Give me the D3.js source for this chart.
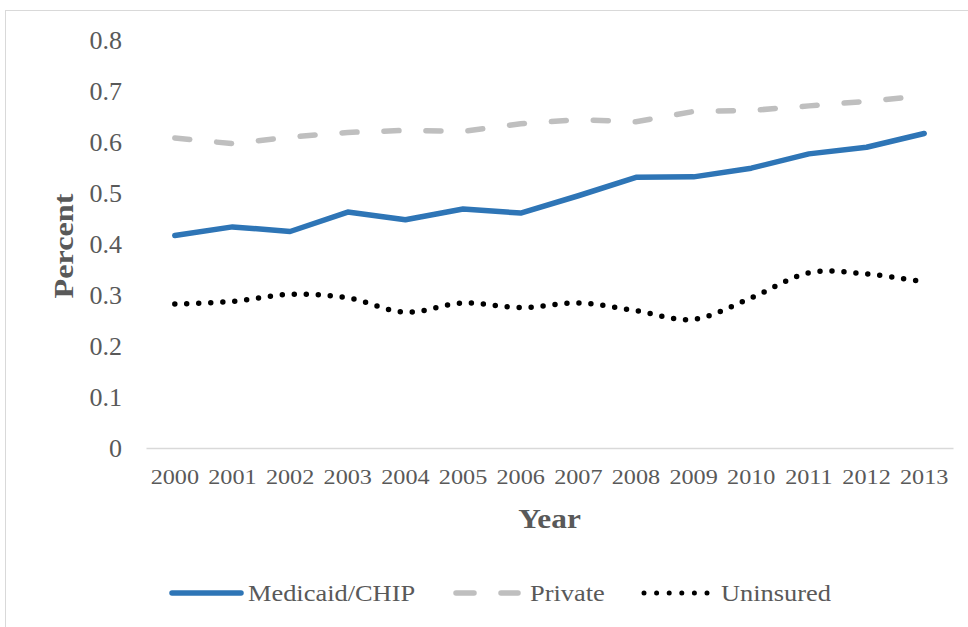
<!DOCTYPE html>
<html>
<head>
<meta charset="utf-8">
<script src="https://cdn.jsdelivr.net/npm/d3@7"></script>
<style>
  html, body { margin: 0; padding: 0; background: #fff; }
  svg { display: block; }
  text { font-family: "Liberation Serif", "Times New Roman", serif; fill: #595959; }
</style>
</head>
<body>
<svg id="chart" width="968" height="627"></svg>
<script>
const years = ["2000","2001","2002","2003","2004","2005","2006","2007","2008","2009","2010","2011","2012","2013"];
const medicaid = [0.416,0.433,0.424,0.462,0.447,0.468,0.460,0.494,0.530,0.531,0.548,0.576,0.589,0.616];
const privateIns = [0.607,0.596,0.609,0.618,0.622,0.620,0.635,0.643,0.639,0.659,0.661,0.670,0.679,0.690];
const uninsured = [0.282,0.287,0.301,0.294,0.266,0.284,0.275,0.284,0.269,0.252,0.294,0.343,0.341,0.325];
const yTicks = [0,0.1,0.2,0.3,0.4,0.5,0.6,0.7,0.8];
const seriesNames = ["Medicaid/CHIP","Private","Uninsured"];

const svg = d3.select("#chart");

// chart border
svg.append("rect").attr("x",5.5).attr("y",10.5).attr("width",1000).attr("height",700)
  .attr("fill","none").attr("stroke","#d9d9d9").attr("stroke-width",1);

const x = d3.scaleBand().domain(years).range([146,953]);
const y = d3.scaleLinear().domain([0,0.8]).range([448,39.5]);
const cx = d => x(d) + x.bandwidth()/2;

// y axis labels
const yAxis = d3.axisLeft(y).tickValues(yTicks).tickSize(0).tickPadding(0)
  .tickFormat(d => d === 0 ? "0" : d3.format(".1f")(d));
const gy = svg.append("g").attr("transform","translate(122,0)").call(yAxis);
gy.select(".domain").remove();
gy.selectAll("text").attr("font-size","26px").attr("fill","#595959")
  .style("font-family","'Liberation Serif', serif").attr("dy","0.33em");

// x axis
const xAxis = d3.axisBottom(x).tickSize(0).tickPadding(0);
const gx = svg.append("g").attr("transform","translate(0,448)").call(xAxis);
gx.select(".domain").attr("stroke","#d9d9d9").attr("stroke-width",1.5);
gx.selectAll("text").attr("font-size","22px").attr("fill","#595959")
  .style("font-family","'Liberation Serif', serif").attr("y",0).attr("dy",0)
  .attr("transform","translate(0,36) scale(1.1,1)");

// axis titles
svg.append("text").attr("transform","translate(549.5,528) scale(1.12,1)").attr("text-anchor","middle")
  .attr("font-size","28px").attr("font-weight","bold").text("Year");
svg.append("text").attr("transform","translate(73,246) rotate(-90) scale(1.15,1)").attr("text-anchor","middle")
  .attr("font-size","28px").attr("font-weight","bold").text("Percent");

const idx = d3.range(years.length);
const lineLin = vals => d3.line().x(i => cx(years[i])).y(i => y(vals[i]))(idx);
const lineSmooth = vals => d3.line().curve(d3.curveCatmullRom.alpha(0)).x(i => cx(years[i])).y(i => y(vals[i]))(idx);

const styles = [
  {stroke:"#2e75b6", dash:null},
  {stroke:"#bfbfbf", dash:"15 27"},
  {stroke:"#000000", dash:"0 12"}
];

svg.append("path").attr("d", lineLin(privateIns)).attr("fill","none")
  .attr("stroke",styles[1].stroke).attr("stroke-width",5.5).attr("stroke-linecap","round")
  .attr("stroke-dasharray",styles[1].dash);
svg.append("path").attr("d", lineSmooth(uninsured)).attr("fill","none")
  .attr("stroke",styles[2].stroke).attr("stroke-width",5.5).attr("stroke-linecap","round")
  .attr("stroke-dasharray",styles[2].dash);
svg.append("path").attr("d", lineLin(medicaid)).attr("fill","none")
  .attr("stroke",styles[0].stroke).attr("stroke-width",5.5).attr("stroke-linecap","round")
  .attr("stroke-linejoin","round");

// legend
const legendItems = [
  {name:seriesNames[0], x0:172, x1:241, tx:248},
  {name:seriesNames[1], x0:456, x1:518, tx:530},
  {name:seriesNames[2], x0:644, x1:708, tx:721}
];
legendItems.forEach((it,i) => {
  const s = styles[i];
  const ln = svg.append("line").attr("x1",it.x0).attr("x2",it.x1).attr("y1",593).attr("y2",593)
    .attr("stroke",s.stroke).attr("stroke-linecap","round");
  if (i===0) ln.attr("stroke-width",5.5);
  if (i===1) ln.attr("stroke-width",5.5).attr("stroke-dasharray","18 27");
  if (i===2) ln.attr("stroke-width",5).attr("stroke-dasharray","0 12.6");
  svg.append("text").attr("transform",`translate(${it.tx},601) scale(1.1,1)`)
    .attr("font-size","24px").text(it.name);
});
</script>
</body>
</html>
